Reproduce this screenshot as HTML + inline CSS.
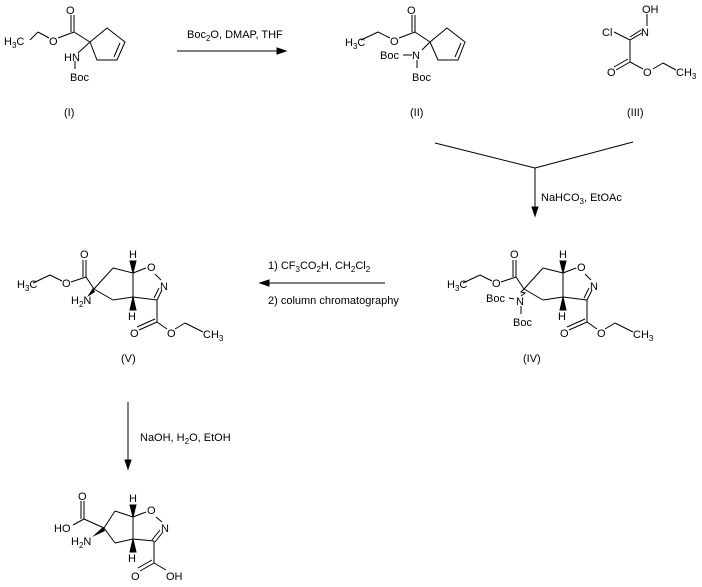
<!DOCTYPE html>
<html><head><style>body{margin:0;background:#fff}svg{display:block}text{font-family:"Liberation Sans",sans-serif;font-size:11px;fill:#000;stroke:none}</style></head>
<body>
<svg width="702" height="587" viewBox="0 0 702 587" xmlns="http://www.w3.org/2000/svg" stroke="#000" stroke-width="1" fill="none">
<!-- Compound I -->
<g>
<line x1="30" y1="40" x2="38" y2="32"/><line x1="38" y1="32" x2="49" y2="38"/>
<line x1="58" y1="38" x2="74" y2="32"/><line x1="74" y1="32" x2="74" y2="15"/><line x1="71" y1="32" x2="71" y2="15"/>
<line x1="74" y1="32" x2="90" y2="42"/>
<polyline points="90,42 107,28 125,42 117,60 97,60 90,42"/><line x1="120" y1="43" x2="114" y2="57"/>
<line x1="90" y1="42" x2="78" y2="53"/><line x1="75" y1="61" x2="75" y2="69"/>
</g>
<text x="4" y="45">H<tspan font-size="8" dy="3">3</tspan><tspan dy="-3">C</tspan></text>
<text x="49" y="45">O</text><text x="66" y="14">O</text>
<text x="64" y="61">HN</text><text x="70" y="81">Boc</text>
<text x="64" y="116">(I)</text>
<!-- arrow 1 -->
<line x1="177" y1="51" x2="280" y2="51"/><polygon points="286,51 277,48 277,54" fill="#000"/>
<text x="187" y="38">Boc<tspan font-size="8" dy="3">2</tspan><tspan dy="-3">O, DMAP, THF</tspan></text>
<!-- Compound II -->
<g>
<line x1="361" y1="40" x2="378" y2="32"/><line x1="378" y1="32" x2="390" y2="38"/>
<line x1="399" y1="38" x2="415" y2="32"/><line x1="415" y1="32" x2="415" y2="15"/><line x1="412" y1="32" x2="412" y2="15"/>
<line x1="415" y1="32" x2="430" y2="42"/>
<polyline points="430,42 447,28 465,42 458,60 438,60 430,42"/><line x1="461" y1="43" x2="455" y2="57"/>
<line x1="430" y1="42" x2="422" y2="50"/><line x1="403" y1="55" x2="412" y2="55"/><line x1="417" y1="60" x2="417" y2="68"/>
</g>
<text x="345" y="46">H<tspan font-size="8" dy="3">3</tspan><tspan dy="-3">C</tspan></text>
<text x="390" y="45">O</text><text x="407" y="14">O</text>
<text x="412" y="59">N</text><text x="380" y="59">Boc</text><text x="412" y="81">Boc</text>
<text x="410" y="116">(II)</text>
<!-- Compound III -->
<g>
<line x1="614" y1="32" x2="630" y2="40"/><line x1="630" y1="40" x2="642" y2="33"/><line x1="630" y1="37" x2="641" y2="30"/>
<line x1="647" y1="14" x2="647" y2="26"/>
<line x1="630" y1="40" x2="630" y2="62"/>
<line x1="630" y1="62" x2="616" y2="70"/><line x1="628" y1="59" x2="614" y2="67"/>
<line x1="630" y1="62" x2="643" y2="69"/><line x1="653" y1="69" x2="663" y2="63"/><line x1="663" y1="63" x2="676" y2="70"/>
</g>
<text x="602" y="36">Cl</text><text x="641" y="36">N</text><text x="642" y="13">OH</text>
<text x="607" y="76">O</text><text x="643" y="76">O</text>
<text x="676" y="76">CH<tspan font-size="8" dy="3">3</tspan></text>
<text x="627" y="116">(III)</text>
<!-- merge arrow -->
<line x1="435" y1="143" x2="535" y2="168"/><line x1="633" y1="142" x2="535" y2="168"/>
<line x1="535" y1="168" x2="535" y2="210"/><polygon points="535,216 532,207 538,207" fill="#000"/>
<text x="541" y="201">NaHCO<tspan font-size="8" dy="3">3</tspan><tspan dy="-3">, EtOAc</tspan></text>
<!-- V -->
<g>
<line x1="94" y1="289" x2="113" y2="268"/><line x1="113" y1="268" x2="133" y2="273"/>
<line x1="133" y1="273" x2="146" y2="268"/><line x1="155" y1="274" x2="161" y2="280"/>
<line x1="162" y1="290" x2="157" y2="300"/><line x1="159" y1="288" x2="154" y2="298"/>
<line x1="157" y1="300" x2="133" y2="297"/><line x1="133" y1="297" x2="133" y2="273"/>
<line x1="133" y1="297" x2="113" y2="300"/><line x1="113" y1="300" x2="94" y2="289"/>
<line x1="94" y1="289" x2="86" y2="277"/><line x1="86" y1="277" x2="86" y2="260"/><line x1="83" y1="277" x2="83" y2="260"/>
<line x1="86" y1="277" x2="71" y2="282"/><line x1="62" y1="281" x2="50" y2="275"/><line x1="50" y1="275" x2="33" y2="283"/>
<line x1="157" y1="300" x2="157" y2="322"/><line x1="157" y1="322" x2="139" y2="330"/><line x1="155" y1="319" x2="137" y2="327"/>
<line x1="157" y1="322" x2="167" y2="329"/><line x1="175" y1="329" x2="185" y2="323"/><line x1="185" y1="323" x2="203" y2="332"/>
<polygon points="133,273 130,261 136,261" fill="#000"/><polygon points="133,297 130,310 136,310" fill="#000"/>
</g>
<text x="17" y="288">H<tspan font-size="8" dy="3">3</tspan><tspan dy="-3">C</tspan></text>
<text x="62" y="287">O</text><text x="80" y="258">O</text>
<text x="147" y="271">O</text><text x="160" y="290">N</text>
<text x="130" y="337">O</text><text x="167" y="337">O</text>
<text x="203" y="338">CH<tspan font-size="8" dy="3">3</tspan></text>
<text x="129" y="258">H</text><text x="128" y="320">H</text>
<text x="71" y="304">H<tspan font-size="8" dy="3">2</tspan><tspan dy="-3">N</tspan></text>
<polygon points="87,297 93,288 95,292" fill="#000" stroke="none"/>
<text x="121" y="362">(V)</text>
<!-- IV -->
<g transform="translate(430,0)">
<line x1="94" y1="289" x2="113" y2="268"/><line x1="113" y1="268" x2="133" y2="273"/>
<line x1="133" y1="273" x2="146" y2="268"/><line x1="155" y1="274" x2="161" y2="280"/>
<line x1="162" y1="290" x2="157" y2="300"/><line x1="159" y1="288" x2="154" y2="298"/>
<line x1="157" y1="300" x2="133" y2="297"/><line x1="133" y1="297" x2="133" y2="273"/>
<line x1="133" y1="297" x2="113" y2="300"/><line x1="113" y1="300" x2="94" y2="289"/>
<line x1="94" y1="289" x2="86" y2="277"/><line x1="86" y1="277" x2="86" y2="260"/><line x1="83" y1="277" x2="83" y2="260"/>
<line x1="86" y1="277" x2="71" y2="282"/><line x1="62" y1="281" x2="50" y2="275"/><line x1="50" y1="275" x2="33" y2="283"/>
<line x1="157" y1="300" x2="157" y2="322"/><line x1="157" y1="322" x2="139" y2="330"/><line x1="155" y1="319" x2="137" y2="327"/>
<line x1="157" y1="322" x2="167" y2="329"/><line x1="175" y1="329" x2="185" y2="323"/><line x1="185" y1="323" x2="203" y2="332"/>
<polygon points="133,273 130,261 136,261" fill="#000"/><polygon points="133,297 130,310 136,310" fill="#000"/>
<polyline points="94,289 91,292 95,293 91,296"/>
<line x1="79" y1="298" x2="84" y2="299"/><line x1="91" y1="306" x2="91" y2="314"/>
</g>
<text x="447" y="288">H<tspan font-size="8" dy="3">3</tspan><tspan dy="-3">C</tspan></text>
<text x="492" y="287">O</text><text x="510" y="258">O</text>
<text x="577" y="271">O</text><text x="590" y="290">N</text>
<text x="560" y="337">O</text><text x="597" y="337">O</text>
<text x="633" y="338">CH<tspan font-size="8" dy="3">3</tspan></text>
<text x="559" y="258">H</text><text x="558" y="320">H</text>
<text x="516" y="305">N</text><text x="486" y="302">Boc</text><text x="513" y="326">Boc</text>
<text x="523" y="362">(IV)</text>
<!-- arrow left -->
<line x1="385" y1="283" x2="266" y2="283"/><polygon points="260,283 269,280 269,286" fill="#000"/>
<text x="268" y="269">1) CF<tspan font-size="8" dy="3">3</tspan><tspan dy="-3">CO</tspan><tspan font-size="8" dy="3">2</tspan><tspan dy="-3">H, CH</tspan><tspan font-size="8" dy="3">2</tspan><tspan dy="-3">Cl</tspan><tspan font-size="8" dy="3">2</tspan></text>
<text x="268" y="304">2) column chromatography</text>
<!-- arrow down -->
<line x1="128" y1="402" x2="128" y2="463"/><polygon points="128,469 125,460 131,460" fill="#000"/>
<text x="140" y="441">NaOH, H<tspan font-size="8" dy="3">2</tspan><tspan dy="-3">O, EtOH</tspan></text>
<!-- final -->
<g>
<line x1="104" y1="528" x2="115" y2="511"/><line x1="115" y1="511" x2="133" y2="517"/>
<line x1="133" y1="517" x2="146" y2="512"/><line x1="156" y1="517" x2="162" y2="522"/>
<line x1="163" y1="532" x2="155" y2="542"/><line x1="160" y1="530" x2="152" y2="540"/>
<line x1="154" y1="541" x2="133" y2="539"/><line x1="133" y1="539" x2="133" y2="517"/>
<line x1="133" y1="539" x2="115" y2="543"/><line x1="115" y1="543" x2="104" y2="528"/>
<line x1="104" y1="528" x2="84" y2="519"/><line x1="84" y1="519" x2="84" y2="501"/><line x1="81" y1="519" x2="81" y2="501"/>
<line x1="84" y1="519" x2="73" y2="525"/>
<line x1="154" y1="541" x2="154" y2="563"/><line x1="154" y1="563" x2="140" y2="571"/><line x1="152" y1="560" x2="138" y2="568"/>
<line x1="154" y1="563" x2="166" y2="570"/>
<polygon points="133,517 130,505 136,505" fill="#000"/><polygon points="133,539 130,552 136,552" fill="#000"/>
<polygon points="92,537 103,527 105,531" fill="#000" stroke="none"/>
</g>
<text x="54" y="532">HO</text><text x="78" y="500">O</text>
<text x="147" y="514">O</text><text x="161" y="532">N</text>
<text x="71" y="545">H<tspan font-size="8" dy="3">2</tspan><tspan dy="-3">N</tspan></text>
<text x="129" y="502">H</text><text x="128" y="562">H</text>
<text x="131" y="580">O</text><text x="166" y="580">OH</text>
</svg>
</body></html>
